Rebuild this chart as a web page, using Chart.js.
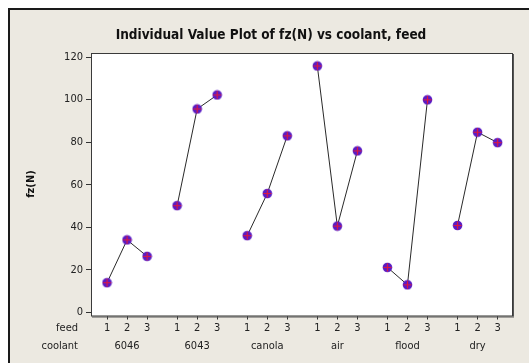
<!DOCTYPE html>
<html><head><meta charset="utf-8">
<script src="https://cdn.jsdelivr.net/npm/chart.js@4"></script>
<style>
html,body{margin:0;padding:0;background:#fff;}
#wrap{position:relative;width:529px;height:363px;overflow:hidden;}
#frame{position:absolute;left:8px;top:8px;width:600px;height:400px;border-left:2px solid #1a1a1a;border-top:2px solid #1a1a1a;background:#ECE9E1;}
canvas{position:absolute;left:0;top:0;}
</style></head><body>
<div id="wrap"><div id="frame"></div><canvas id="c" width="529" height="363"></canvas></div>
<script>
const coolants = ['6046','6043','canola','air','flood','dry'];
const feeds = ['1','2','3'];
const fz_6046   = [14.0, 34.1, 26.4];
const fz_6043   = [50.2, 95.6, 102.2];
const fz_canola = [36.1, 55.9, 83.0];
const fz_air    = [115.8, 40.6, 75.9];
const fz_flood  = [21.2, 13.0, 99.9];
const fz_dry    = [40.9, 84.7, 79.8];
const yTicks = [0, 20, 40, 60, 80, 100, 120];
const titleText = 'Individual Value Plot of fz(N) vs coolant, feed';
const yTitle = 'fz(N)';

const series = [fz_6046, fz_6043, fz_canola, fz_air, fz_flood, fz_dry];
const GAP = 3.5;
const pos = (g, f) => g * GAP + f + 1;
const xTickVals = [];
coolants.forEach((c, g) => feeds.forEach((f, i) => xTickVals.push(pos(g, i))));

const FONT = '"DejaVu Sans Condensed","DejaVu Sans",sans-serif';

// marker: violet disc with red cross
const mk = document.createElement('canvas');
mk.width = 11; mk.height = 11;
(function(){
  const c = mk.getContext('2d');
  c.fillStyle = '#5a1cc4';
  c.beginPath(); c.arc(5.5, 5.5, 4.8, 0, Math.PI*2); c.fill();
  c.strokeStyle = '#e0183c'; c.lineWidth = 1.2;
  c.beginPath(); c.moveTo(5.5, 1.5); c.lineTo(5.5, 9.5); c.moveTo(1.5, 5.5); c.lineTo(9.5, 5.5); c.stroke();
})();

const datasets = series.map((vals, g) => ({
  label: coolants[g],
  data: vals.map((v, i) => ({x: pos(g, i), y: v})),
  showLine: true,
  borderColor: '#2a2a2a',
  borderWidth: 1,
  pointStyle: mk,
  pointRadius: 5
}));

const deco = {
  id: 'deco',
  beforeDatasetsDraw(chart) {
    const {ctx, chartArea: a} = chart;
    ctx.save();
    ctx.fillStyle = '#ffffff';
    ctx.fillRect(a.left, a.top, a.right - a.left, a.bottom - a.top);
    ctx.restore();
  },
  afterDraw(chart) {
    const {ctx, chartArea: a} = chart;
    const xs = chart.scales.x;
    ctx.save();
    // plot border
    ctx.strokeStyle = '#3a3a3a'; ctx.lineWidth = 1;
    ctx.strokeRect(a.left + 0.5, a.top + 0.5, a.right - a.left - 1, a.bottom - a.top);
    ctx.strokeStyle = '#555'; ctx.lineWidth = 1;
    ctx.beginPath(); ctx.moveTo(a.right + 0.5, a.top + 1); ctx.lineTo(a.right + 0.5, a.bottom + 1);
    ctx.moveTo(a.left + 1, a.bottom + 1.5); ctx.lineTo(a.right + 1, a.bottom + 1.5); ctx.stroke();
    // title
    ctx.fillStyle = '#111';
    ctx.font = 'bold 13.5px ' + FONT;
    ctx.textAlign = 'center'; ctx.textBaseline = 'middle';
    ctx.fillText(titleText, 271, 35);
    // y title
    ctx.save();
    ctx.translate(31, 184); ctx.rotate(-Math.PI/2);
    ctx.font = 'bold 11px ' + FONT;
    ctx.fillText(yTitle, 0, 0);
    ctx.restore();
    // row headers
    ctx.font = '11px ' + FONT;
    ctx.fillStyle = '#222';
    ctx.textAlign = 'right';
    ctx.fillText('feed', 78, 328);
    ctx.fillText('coolant', 78, 346);
    // coolant labels
    ctx.textAlign = 'center';
    coolants.forEach((c, g) => ctx.fillText(c, xs.getPixelForValue(pos(g, 1)), 346));
    ctx.restore();
  }
};

new Chart(document.getElementById('c'), {
  type: 'scatter',
  data: {datasets},
  options: {
    responsive: false,
    animation: false,
    layout: {padding: {left: 0, top: 53, right: 16, bottom: 27.5}},
    plugins: {legend: {display: false}, title: {display: false}, tooltip: {enabled: false}},
    scales: {
      x: {
        type: 'linear', min: 0.2, max: 21.27,
        afterBuildTicks: s => { s.ticks = xTickVals.map(v => ({value: v})); },
        afterFit: s => { s.height = 20; },
        border: {display: false},
        grid: {drawOnChartArea: false, drawTicks: true, tickLength: 4, color: '#333'},
        ticks: {autoSkip: false, maxRotation: 0, padding: 2, color: '#222',
          font: {family: FONT, size: 11},
          callback: (v, i) => feeds[i % 3]}
      },
      y: {
        min: -1.4, max: 121.9,
        afterBuildTicks: s => { s.ticks = yTicks.map(v => ({value: v})); },
        afterFit: s => { s.width = 91; },
        border: {display: false},
        grid: {drawOnChartArea: false, drawTicks: true, tickLength: 5, color: '#333'},
        ticks: {padding: 3, color: '#222', font: {family: FONT, size: 11}}
      }
    }
  },
  plugins: [deco]
});
</script>
</body></html>
